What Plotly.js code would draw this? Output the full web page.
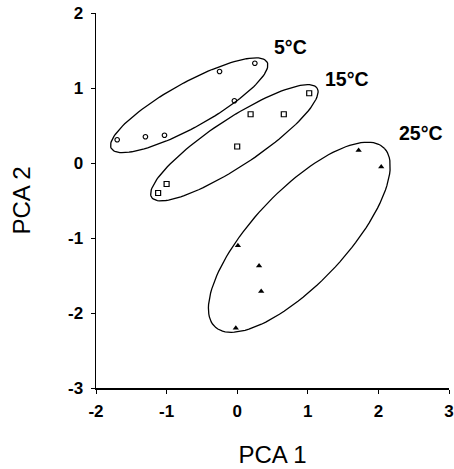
<!DOCTYPE html>
<html><head><meta charset="utf-8">
<script src="https://cdn.plot.ly/plotly-3.0.1.min.js"></script>
<style>html,body{margin:0;padding:0;background:#fff}#c{width:454px;height:469px}</style>
</head><body><div id="c"></div>
<script>
// Data
const groupNames = ["5°C", "15°C", "25°C"];
const x5 = [-1.70, -1.30, -1.03, -0.25, 0.25, -0.04];
const y5 = [0.31, 0.35, 0.37, 1.22, 1.33, 0.83];
const x15 = [1.02, 0.19, 0.66, 0.00, -1.00, -1.12];
const y15 = [0.93, 0.65, 0.65, 0.22, -0.28, -0.40];
const x25 = [1.72, 2.04, 0.01, 0.31, 0.34, -0.02];
const y25 = [0.17, -0.05, -1.10, -1.37, -1.71, -2.20];
// Tick values and labels
const xTicks = [-2, -1, 0, 1, 2, 3];
const xTickText = ["-2", "-1", "0", "1", "2", "3"];
const yTicks = [-3, -2, -1, 0, 1, 2];
const yTickText = ["-3", "-2", "-1", "0", "1", "2"];
// Group ellipses: centre x, centre y, semi-major, semi-minor, angle (deg)
const ellCx = [-0.68, -0.04, 0.88];
const ellCy = [0.77, 0.27, -0.99];
const ellA = [1.245, 1.38, 1.69];
const ellB = [0.30, 0.32, 0.64];
const ellAng = [27.4, 31.7, 44.4];
// Label anchors
const labX = [0.76, 1.56, 2.61];
const labY = [1.55, 1.12, 0.40];

function ellipse(i){
  const xs=[], ys=[];
  const p = ellAng[i]*Math.PI/180;
  for(let k=0;k<=120;k++){
    const t = 2*Math.PI*k/120;
    const u = ellA[i]*Math.cos(t), v = ellB[i]*Math.sin(t);
    xs.push(ellCx[i] + u*Math.cos(p) - v*Math.sin(p));
    ys.push(ellCy[i] + u*Math.sin(p) + v*Math.cos(p));
  }
  return {x:xs, y:ys, mode:'lines', line:{color:'#000', width:1.3}, hoverinfo:'skip', showlegend:false};
}

const traces = [
  ellipse(0), ellipse(1), ellipse(2),
  {x:x5, y:y5, mode:'markers', marker:{symbol:'circle-open', size:4.5, color:'#000', line:{width:1.2}}},
  {x:x15, y:y15, mode:'markers', marker:{symbol:'square-open', size:5, color:'#000', line:{width:1.2}}},
  {x:x25, y:y25, mode:'markers', marker:{symbol:'triangle-up', size:5.5, color:'#000'}}
];

const font = "'Liberation Sans', Arial, sans-serif";
const bold = a => a.map(s => '<b>' + s + '</b>');
const layout = {
  width:454, height:469,
  margin:{l:96, r:5, t:13, b:81},
  showlegend:false,
  paper_bgcolor:'#fff', plot_bgcolor:'#fff',
  font:{family:font, color:'#000'},
  xaxis:{range:[-2,3], tickmode:'array', tickvals:xTicks, ticktext:bold(xTickText),
    showgrid:false, zeroline:false,
    showline:true, linecolor:'#000', linewidth:1.5, ticks:'outside', ticklen:4, tickcolor:'#000',
    ticklabelstandoff:3,
    tickfont:{size:17, family:font},
    title:{text:'PCA 1', font:{size:24, family:font}, standoff:26}},
  yaxis:{range:[-3,2], tickmode:'array', tickvals:yTicks, ticktext:bold(yTickText),
    showgrid:false, zeroline:false,
    showline:true, linecolor:'#000', linewidth:1.5, ticks:'outside', ticklen:4, tickcolor:'#000',
    ticklabelstandoff:4,
    tickfont:{size:17, family:font},
    title:{text:'PCA 2', font:{size:24, family:font}, standoff:30}},
  annotations: groupNames.map((g,i)=>({x:labX[i], y:labY[i], text:'<b>'+g+'</b>', showarrow:false,
    font:{size:19.5, family:font}, xanchor:'center', yanchor:'middle'}))
};
Plotly.newPlot('c', traces, layout, {displayModeBar:false, staticPlot:true});
</script></body></html>
